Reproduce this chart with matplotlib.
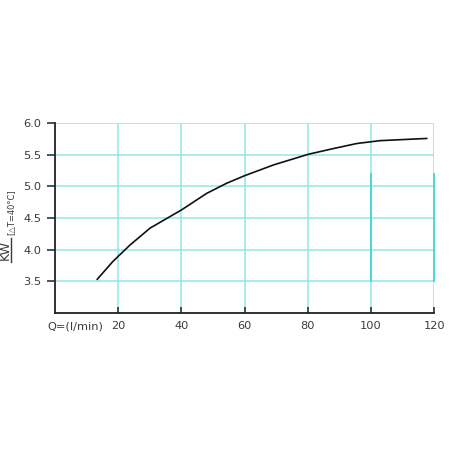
import matplotlib
matplotlib.use("Agg")
import matplotlib.pyplot as plt
from matplotlib.lines import Line2D

plt.rcParams['font.family'] = ['DejaVu Sans']

# Curva de potencia vs caudal
caudal = [13.4, 18.3, 23.7, 30.1, 40.1, 48.0, 54.3, 60.0, 69.1, 80.2, 88.1, 95.5, 102.8, 117.6]
potencia = [3.53, 3.81, 4.07, 4.34, 4.63, 4.89, 5.05, 5.17, 5.34, 5.51, 5.60, 5.68, 5.725, 5.76]

x_ticks = [20, 40, 60, 80, 100, 120]
y_ticks = [3.5, 4.0, 4.5, 5.0, 5.5, 6.0]
y_labels = ["3.5", "4.0", "4.5", "5.0", "5.5", "6.0"]

grid_color = "#8fe8ea"
text_color = "#3a3a3a"

fig = plt.figure(figsize=(4.5, 4.5), dpi=100)
ax = fig.add_axes([0.122, 0.305, 0.843, 0.421])

ax.set_xlim(0, 120)
ax.set_ylim(3.0, 6.0)

# Rejilla
for y in y_ticks:
    ax.axhline(y, color=grid_color, lw=1.1, zorder=1)
for x in x_ticks:
    ax.axvline(x, color=grid_color, lw=1.1, zorder=1)
# tramos mas oscuros en 100 y 120
for x in [100, 120]:
    ax.plot([x, x], [3.5, 5.2], color="#3fd6da", lw=1.3, zorder=1, clip_on=False)

ax.plot(caudal, potencia, color="#111111", lw=1.2, zorder=3)

for s in ["top", "right"]:
    ax.spines[s].set_visible(False)
ax.spines["left"].set_color("#222222")
ax.spines["bottom"].set_color("#222222")
ax.spines["left"].set_linewidth(1.3)
ax.spines["bottom"].set_linewidth(1.3)

ax.set_xticks(x_ticks)
ax.set_yticks(y_ticks)
ax.set_yticklabels(y_labels)
ax.tick_params(axis="y", direction="out", length=6, width=1.1, colors="#222222",
               labelcolor=text_color, labelsize=8.2, pad=4)
ax.tick_params(axis="x", direction="in", length=4, width=1.1, colors="#222222",
               labelcolor=text_color, labelsize=8.2, pad=6)

ax.text(-2.5, -0.048, "Q=(l/min)", transform=ax.get_xaxis_transform(), ha="left", va="top",
        fontsize=8.2, color=text_color)

# etiqueta del eje y: KW subrayado + condicion
fig.text(0.0125, 0.444, "KW", rotation=90, ha="center", va="center", fontsize=9,
         color=text_color)
fig.add_artist(Line2D([0.0245, 0.0245], [0.417, 0.472], color=text_color, lw=1.0))
fig.text(0.0255, 0.528, "[\u25b3T=40\u00b0C]", rotation=90, ha="center", va="center",
         fontsize=6, color=text_color)

fig.savefig("out.png", dpi=100)
